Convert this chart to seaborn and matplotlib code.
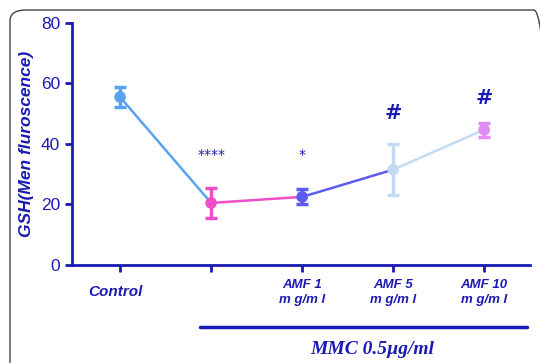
import matplotlib
matplotlib.use("Agg")
import numpy as np
import pandas as pd
import matplotlib.pyplot as plt
import seaborn as sns
from matplotlib.lines import Line2D
from matplotlib.patches import FancyBboxPatch

# data
groups = ["Control", "MMC", "AMF 1\nmg/ml", "AMF 5\nmg/ml", "AMF 10\nmg/ml"]
tick_labels = ["Control", "", "AMF 1\nm g/m l", "AMF 5\nm g/m l", "AMF 10\nm g/m l"]
gsh_mean = [55.5, 20.5, 22.5, 31.5, 44.7]
gsh_err = [3.2, 5.0, 2.5, 8.5, 2.3]
marks = ["", "****", "*", "#", "#"]
mark_y = [0, 34, 34, 47, 52]
colors = ["#5aa2f0", "#f04ec8", "#5c5cf0", "#c4daf2", "#e08cf2"]

NAVY = "#1a1ab4"

sns.set_style("white")
plt.rcParams["font.family"] = ["Liberation Sans", "DejaVu Sans"]

df = pd.DataFrame({"x": range(len(groups)), "group": groups, "gsh": gsh_mean, "err": gsh_err})

fig = plt.figure(figsize=(5.4, 3.63), dpi=100)
ax = fig.add_axes([0.133, 0.27, 0.848, 0.667])

# connecting segments, each in the colour of the point it starts from
for i in range(len(df) - 1):
    seg = df.iloc[i:i + 2]
    sns.lineplot(data=seg, x="x", y="gsh", color=colors[i], linewidth=1.8, ax=ax,
                 legend=False, zorder=2)

for i, row in df.iterrows():
    ax.errorbar(row["x"], row["gsh"], yerr=row["err"], fmt="none", ecolor=colors[i],
                elinewidth=2.5, capsize=4, capthick=2.5, zorder=3)
sns.scatterplot(data=df, x="x", y="gsh", hue="group", palette=colors, s=70,
                edgecolor="none", legend=False, ax=ax, zorder=4)

for i, m in enumerate(marks):
    if m:
        if m == "#":
            ax.text(i, mark_y[i], m, ha="center", va="bottom", color=NAVY,
                    fontsize=15, fontweight="bold", family="DejaVu Serif")
        else:
            ax.text(i, mark_y[i], m, ha="center", va="bottom", color=NAVY,
                    fontsize=10, family="DejaVu Sans")

ax.set_xlim(-0.53, 4.5)
ax.set_ylim(0, 80)
ax.set_yticks([0, 20, 40, 60, 80])
ax.set_xticks(range(len(groups)))
ax.set_xticklabels([])
ax.set_xlabel("")
ax.set_ylabel("GSH(Men fluroscence)", color=NAVY, fontsize=12.5, fontstyle="italic",
              fontweight="bold", labelpad=5)

for s in ["top", "right"]:
    ax.spines[s].set_visible(False)
for s in ["left", "bottom"]:
    ax.spines[s].set_color(NAVY)
    ax.spines[s].set_linewidth(2)
ax.tick_params(axis="both", direction="out", length=5, width=2, color=NAVY,
               labelcolor=NAVY, labelsize=12.5, left=True, bottom=True)

# category labels under the axis
for i, lab in enumerate(tick_labels):
    if not lab:
        continue
    if i == 0:
        ax.text(i - 0.05, -6.5, lab, ha="center", va="top", color=NAVY, fontsize=11,
                fontstyle="italic", fontweight="bold", transform=ax.transData, clip_on=False)
    else:
        ax.text(i, -4.5, lab, ha="center", va="top", color=NAVY, fontsize=9.5,
                fontstyle="italic", fontweight="bold", linespacing=1.4,
                transform=ax.transData, clip_on=False)

# MMC bracket line and label
fig.add_artist(Line2D([200 / 540, 527 / 540], [1 - 327 / 363] * 2, color=NAVY, linewidth=2.5))
fig.text(372 / 540, 1 - 350 / 363, "MMC 0.5µg/ml", ha="center", va="center", color=NAVY,
         fontsize=14, fontstyle="italic", fontweight="bold",
         family=["Liberation Serif", "DejaVu Serif"])

# rounded frame around the panel
frame = FancyBboxPatch((10 / 540, -0.05), 1.0, 1 - 10 / 363 + 0.05,
                       boxstyle="round,pad=0,rounding_size=0.03", transform=fig.transFigure,
                       facecolor="none", edgecolor="#444444", linewidth=1.0, clip_on=False)
fig.add_artist(frame)

fig.savefig("out.png", dpi=100)
